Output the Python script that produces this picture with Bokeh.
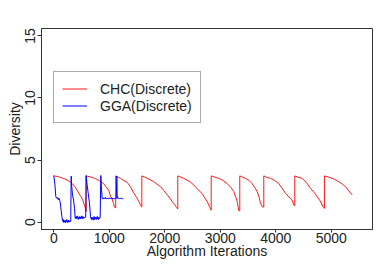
from bokeh.plotting import figure
from bokeh.models import Range1d, FixedTicker, Legend, LegendItem
from bokeh.embed import file_html
from bokeh.resources import INLINE

# CHC (Discrete) diversity (restarts are vertical jumps)
chc_x = [0, 60, 120, 180, 240, 290, 331, 370, 410, 450, 490, 520, 540, 560, 575, 583,
         583, 650, 700, 751, 800, 850, 901, 931, 960, 991, 1021, 1052, 1075, 1094, 1115,
         1115, 1160, 1202, 1260, 1322, 1380, 1441, 1490, 1532, 1560, 1586,
         1586, 1640, 1683, 1740, 1802, 1860, 1923, 1980, 2043, 2090, 2133, 2180, 2211, 2234,
         2234, 2290, 2342, 2400, 2463, 2553, 2600, 2674, 2720, 2764, 2800, 2823, 2836,
         2836, 2900, 2973, 3050, 3124, 3190, 3243, 3280, 3305, 3333, 3351,
         3351, 3400, 3454, 3520, 3574, 3620, 3665, 3700, 3724, 3754, 3784,
         3784, 3840, 3904, 3980, 4054, 4110, 4175, 4220, 4265, 4300, 4324, 4342,
         4342, 4400, 4476, 4550, 4625, 4690, 4745, 4800, 4836, 4865, 4877,
         4877, 4950, 5016, 5080, 5136, 5200, 5256, 5320, 5376]
chc_y = [3.72, 3.68, 3.60, 3.50, 3.39, 3.25, 3.10, 2.90, 2.65, 2.32, 2.05, 1.80, 1.52, 1.25, 1.00, 0.85,
         3.72, 3.65, 3.58, 3.50, 3.38, 3.25, 3.08, 2.90, 2.75, 2.55, 2.10, 1.85, 1.50, 1.20, 1.15,
         3.72, 3.62, 3.52, 3.35, 3.20, 2.85, 2.35, 2.00, 1.65, 1.40, 1.20,
         3.72, 3.62, 3.52, 3.40, 3.25, 3.05, 2.85, 2.55, 2.20, 1.95, 1.65, 1.40, 1.17, 1.05,
         3.72, 3.62, 3.52, 3.38, 3.22, 2.85, 2.60, 2.30, 1.95, 1.65, 1.30, 1.12, 0.95,
         3.72, 3.62, 3.52, 3.35, 3.10, 2.80, 2.45, 2.00, 1.65, 0.93, 0.90,
         3.72, 3.62, 3.52, 3.35, 3.10, 2.80, 2.45, 2.00, 1.55, 1.25, 1.20,
         3.72, 3.60, 3.52, 3.35, 3.10, 2.75, 2.32, 2.10, 1.92, 1.70, 1.38, 1.30,
         3.72, 3.62, 3.52, 3.20, 2.72, 2.40, 2.05, 1.70, 1.38, 1.17, 1.10,
         3.72, 3.62, 3.52, 3.40, 3.25, 3.05, 2.85, 2.50, 2.19]

# GGA (Discrete) diversity
gga_x = [0, 20, 36, 45, 55, 65, 75, 85, 95, 105, 115, 125, 133, 145, 157, 165, 172, 180, 188,
         195, 203, 210, 218, 225, 233, 240, 248, 255, 263, 270, 278, 285, 295, 305,
         313, 322, 337, 355, 373, 385, 392, 400, 408, 416, 425, 433, 441, 450, 458, 466,
         475, 483, 491, 500, 508, 516, 525, 535, 545, 560, 575,
         583, 600, 620, 643, 661, 670, 678, 686, 694, 702, 710, 718, 726, 734, 742, 750,
         758, 766, 774, 782, 790, 798, 806, 815, 823, 835,
         847, 860, 872, 885, 900, 915, 930, 945, 960, 975, 990, 1005, 1020, 1035, 1050,
         1065, 1080, 1095, 1110, 1125, 1135, 1142, 1150, 1165, 1180, 1195, 1210, 1225,
         1240, 1252]
gga_y = [3.75, 3.00, 2.05, 1.95, 2.00, 1.85, 1.95, 1.80, 1.90, 1.75, 1.60, 1.20, 0.90, 0.45,
         0.15, 0.05, 0.20, -0.05, 0.10, 0.00, 0.15, -0.05, 0.10, 0.05, 0.20, 0.00, 0.10, -0.05,
         0.15, 0.05, 0.10, 0.00, 0.10, 0.05,
         3.70, 2.90, 2.19, 1.78, 1.12, 0.32, 0.40, 0.25, 0.45, 0.30, 0.50, 0.35, 0.20, 0.40,
         0.30, 0.45, 0.25, 0.40, 0.30, 0.50, 0.35, 0.25, 0.45, 0.30, 0.40, 0.35, 0.40,
         3.75, 3.00, 2.32, 1.52, 0.45, 0.30, 0.20, 0.40, 0.25, 0.35, 0.15, 0.30, 0.45, 0.20,
         0.35, 0.25, 0.40, 0.20, 0.30, 0.45, 0.25, 0.35, 0.20, 0.40, 0.30, 0.35,
         3.75, 2.60, 1.92, 1.85, 1.95, 1.88, 2.00, 1.85, 1.93, 1.87, 1.95, 1.85, 1.92, 1.88,
         1.95, 1.85, 1.90, 1.87, 1.95, 1.90, 3.70, 2.20, 1.90, 1.95, 1.85, 1.92, 1.88, 1.93,
         1.87, 1.90]

x_ticks = [0, 1000, 2000, 3000, 4000, 5000]
y_ticks = [0, 5, 10, 15]
series_names = ["CHC(Discrete)", "GGA(Discrete)"]

FONT = "Liberation Sans"
AX = "#333333"

p = figure(width=380, height=262, output_backend="svg", toolbar_location=None,
           x_range=Range1d(-222, 5743), y_range=Range1d(-0.6, 15.6),
           min_border_left=41, min_border_right=8, min_border_top=28, min_border_bottom=33)
p.xgrid.visible = False
p.ygrid.visible = False
p.outline_line_color = AX
p.outline_line_width = 1

r_chc = p.line(chc_x, chc_y, line_color="#ff1a1a", line_width=1)
r_gga = p.line(gga_x, gga_y, line_color="#0000ff", line_width=1)

for ax in (p.xaxis[0], p.yaxis[0]):
    ax.axis_line_color = AX
    ax.major_tick_line_color = AX
    ax.minor_tick_line_color = None
    ax.major_tick_in = 0
    ax.major_tick_out = 4
    ax.major_label_text_font = FONT
    ax.major_label_text_font_size = "14px"
    ax.major_label_text_color = "#222222"
    ax.axis_label_text_font = FONT
    ax.axis_label_text_font_size = "14px"
    ax.axis_label_text_font_style = "normal"
    ax.axis_label_text_color = "#222222"

p.xaxis.ticker = FixedTicker(ticks=x_ticks)
p.yaxis.ticker = FixedTicker(ticks=y_ticks)
p.xaxis.axis_label = "Algorithm Iterations"
p.yaxis.axis_label = "Diversity"
p.yaxis.major_label_orientation = "vertical"
p.xaxis.major_tick_out = 3
p.xaxis.major_label_standoff = 0
p.xaxis.axis_label_standoff = -3
p.yaxis.major_label_standoff = 2
p.yaxis.axis_label_standoff = 0

legend = Legend(items=[LegendItem(label=series_names[0], renderers=[r_chc]),
                       LegendItem(label=series_names[1], renderers=[r_gga])],
                location=(12, 106), orientation="vertical")
legend.label_text_font = FONT
legend.label_text_font_size = "14px"
legend.label_text_color = "#222222"
legend.glyph_width = 25
legend.glyph_height = 17
legend.label_height = 17
legend.label_standoff = 13
legend.padding = 8
legend.spacing = 0
legend.margin = 0
legend.border_line_color = "#555555"
legend.border_line_width = 1
legend.background_fill_alpha = 1.0
p.add_layout(legend, "center")

open("out.html", "w").write(file_html(p, INLINE))
